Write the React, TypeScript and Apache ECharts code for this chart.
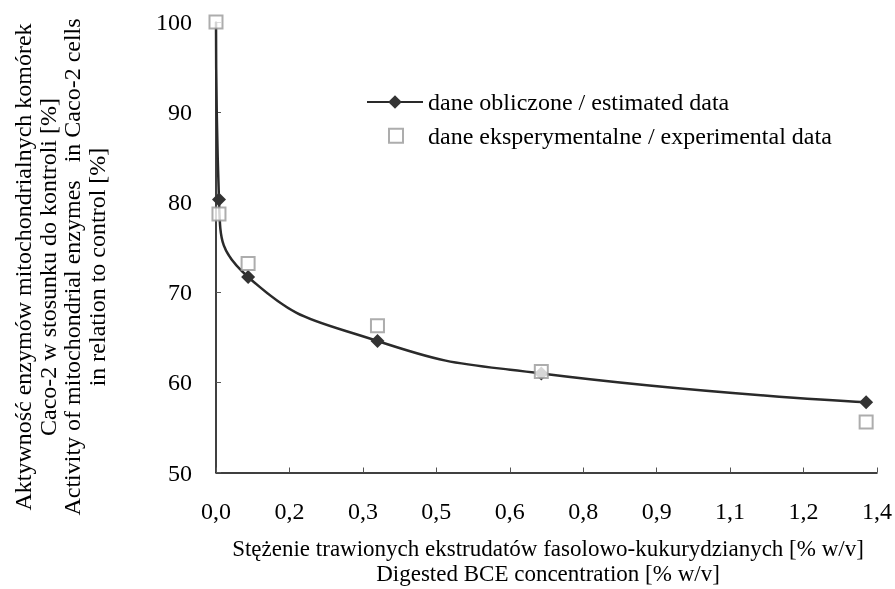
import React, { useEffect, useRef } from "react";
import * as echarts from "echarts";

const FONT = "Liberation Serif";

const estimatedX = [0, 0.0063, 0.068, 0.342, 0.689, 1.377];
const estimatedY = [100, 80.3, 71.7, 64.6, 61.0, 57.8];
const experimentalX = [0, 0.0063, 0.068, 0.342, 0.689, 1.377];
const experimentalY = [100, 78.7, 73.2, 66.3, 61.2, 55.6];

const xMin = 0;
const xMax = 1.4;
const xSteps = 9;
const yMin = 50;
const yMax = 100;
const yInterval = 10;

const estimatedName = "dane obliczone / estimated data";
const experimentalName = "dane eksperymentalne / experimental data";
const yTitle = [
  "Aktywność enzymów mitochondrialnych komórek",
  "Caco-2 w stosunku do kontroli [%]",
  "Activity of mitochondrial enzymes   in Caco-2 cells",
  "in relation to control [%]",
];
const xTitle = [
  "Stężenie trawionych ekstrudatów fasolowo-kukurydzianych [% w/v]",
  "Digested BCE concentration [% w/v]",
];

export default function App() {
  const ref = useRef<HTMLDivElement>(null);
  useEffect(() => {
    if (!ref.current) return;
    const chart = echarts.init(ref.current, null, { renderer: "svg" });
    const estData = estimatedX.map((x, i) =>
      i === 0
        ? { value: [x, estimatedY[i]], symbol: "none" }
        : { value: [x, estimatedY[i]] }
    );
    const expData = experimentalX.map((x, i) => [x, experimentalY[i]]);
    const legendText = { fontFamily: FONT, fontSize: 24, color: "#000", lineHeight: 26 };
    chart.setOption({
      animation: false,
      textStyle: { fontFamily: FONT },
      grid: { left: 216, right: 15.5, top: 22, bottom: 116.5 },
      legend: [
        {
          orient: "vertical",
          left: 366,
          top: 89,
          padding: 0,
          itemWidth: 56,
          itemHeight: 17,
          textStyle: legendText,
          data: [{ name: estimatedName }],
        },
        {
          orient: "vertical",
          left: 388,
          top: 122.7,
          padding: 0,
          itemWidth: 14,
          itemHeight: 14,
          textStyle: { ...legendText, padding: [0, 0, 0, 20] },
          data: [
            {
              name: experimentalName,
              icon: "rect",
              itemStyle: { color: "#fff", borderColor: "#999", borderWidth: 2 },
            },
          ],
        },
      ],
      xAxis: {
        type: "value",
        min: xMin,
        max: xMax,
        interval: (xMax - xMin) / xSteps,
        axisLine: { show: true, lineStyle: { color: "#000", width: 1.5 } },
        axisTick: { show: true, inside: true, length: 5, lineStyle: { color: "#555", width: 1 } },
        splitLine: { show: false },
        axisLabel: {
          margin: 26,
          fontFamily: FONT,
          fontSize: 24,
          color: "#000",
          formatter: (v: number) => v.toFixed(1).replace(".", ","),
        },
      },
      yAxis: {
        type: "value",
        min: yMin,
        max: yMax,
        interval: yInterval,
        axisLine: { show: true, lineStyle: { color: "#000", width: 1.5 } },
        axisTick: { show: true, inside: true, length: 5, lineStyle: { color: "#555", width: 1 } },
        splitLine: { show: false },
        axisLabel: { margin: 24, fontFamily: FONT, fontSize: 24, color: "#000" },
      },
      graphic: [
        {
          type: "text",
          x: 60,
          y: 267,
          rotation: Math.PI / 2,
          style: {
            text: yTitle.join("\n"),
            fontFamily: FONT,
            fontSize: 24,
            lineHeight: 24.7,
            fill: "#000",
            align: "center",
            verticalAlign: "middle",
          },
        },
        {
          type: "text",
          x: 548,
          y: 561,
          style: {
            text: xTitle.join("\n"),
            fontFamily: FONT,
            fontSize: 23,
            lineHeight: 25,
            fill: "#000",
            align: "center",
            verticalAlign: "middle",
          },
        },
      ],
      series: [
        {
          name: estimatedName,
          type: "line",
          data: estData,
          smooth: 0.5,
          symbol: "diamond",
          symbolSize: 14,
          showSymbol: true,
          lineStyle: { color: "#2a2a2a", width: 2.5 },
          itemStyle: { color: "#333" },
          z: 2,
        },
        {
          name: experimentalName,
          type: "scatter",
          data: expData,
          symbol: "rect",
          symbolSize: 13,
          itemStyle: { color: "#fff", borderColor: "#999", borderWidth: 2 },
          z: 3,
        },
      ],
    });
    return () => chart.dispose();
  }, []);
  return (
    <div
      ref={ref}
      style={{ position: "fixed", left: 0, top: 0, width: 895, height: 589 }}
    />
  );
}
